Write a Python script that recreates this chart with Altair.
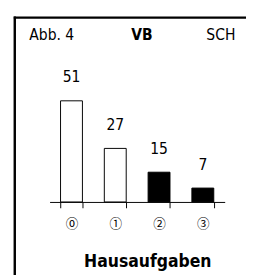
import altair as alt
import pandas as pd

categories = ["⓪", "①", "②", "③"]
values = [51, 27, 15, 7]
fills = ["white", "white", "black", "black"]

df = pd.DataFrame({"cat": categories, "val": values, "fill": fills})

FONT = "DejaVu Sans Condensed"

x = alt.X("cat:N", sort=categories,
          scale=alt.Scale(paddingInner=0.5, paddingOuter=0.25),
          axis=alt.Axis(title="Hausaufgaben", labelAngle=0, tickBand="extent",
                        domainColor="black", tickColor="black", tickSize=6,
                        labelFont="Noto Sans CJK JP", labelFontSize=13, labelColor="black",
                        labelPadding=10, titleFont=FONT, titleFontSize=18,
                        titleFontWeight="bold", titleColor="black",
                        titleX=101, titleY=62, titleBaseline="middle"))
y = alt.Y("val:Q", scale=alt.Scale(domain=[0, 60]), axis=None)

bars = alt.Chart(df).mark_bar(stroke="black", strokeWidth=1).encode(
    x=x, y=y,
    fill=alt.Fill("fill:N", scale=None),
)
labels = alt.Chart(df).mark_text(font=FONT, fontSize=16, dy=-19,
                                 baseline="alphabetic", color="black").encode(
    x=alt.X("cat:N", sort=categories), y=y, text="val:Q")

hdr = pd.DataFrame({"t": ["Abb. 4"]})
h1 = alt.Chart(hdr).mark_text(font=FONT, fontSize=16, align="left", baseline="middle",
                              color="black").encode(
    x=alt.value(-21), y=alt.value(-49), text=alt.value("Abb. 4"))
h2 = alt.Chart(hdr).mark_text(font=FONT, fontSize=16, fontWeight="bold", align="center",
                              baseline="middle", color="black").encode(
    x=alt.value(95.5), y=alt.value(-49), text=alt.value("VB"))
h3 = alt.Chart(hdr).mark_text(font=FONT, fontSize=16, align="right", baseline="middle",
                              color="black").encode(
    x=alt.value(192), y=alt.value(-49), text=alt.value("SCH"))
top_rule = alt.Chart(hdr).mark_rule(color="black", strokeWidth=2.5).encode(
    x=alt.value(-37), x2=alt.value(210), y=alt.value(-67.5))
left_rule = alt.Chart(hdr).mark_rule(color="black", strokeWidth=2.5).encode(
    x=alt.value(-36), y=alt.value(-68.7), y2=alt.value(210))

chart = alt.layer(bars, labels, h1, h2, h3, top_rule, left_rule).properties(
    width=181, height=123,
    background="white",
    autosize=alt.AutoSizeParams(type="none"),
    padding={"left": 43, "top": 73, "right": 22, "bottom": 71},
).configure_view(strokeWidth=0, stroke="transparent")

chart.save("out.html", embed_options={"renderer": "svg", "actions": False})
